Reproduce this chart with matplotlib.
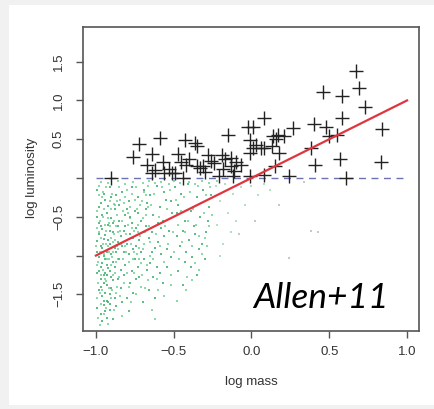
import matplotlib
matplotlib.use("Agg")
import matplotlib.pyplot as plt
from matplotlib.patches import Rectangle
import numpy as np

# black crosses: the brighter sample (log mass, log luminosity)
plus_mass = [-0.90, -0.76, -0.72, -0.67, -0.64, -0.64, -0.59, -0.57, -0.56, -0.51,
             -0.49, -0.47, -0.44, -0.43, -0.36, -0.35, -0.42, -0.35, -0.33, -0.31,
             -0.28, -0.24, -0.21, -0.19, -0.17, -0.15, -0.13, -0.13, -0.12, -0.07,
             -0.11, -0.02, 0.01, 0.08, -0.01, -0.01, 0.01, 0.06, 0.08, -0.01,
             0.08, 0.14, 0.17, 0.21, 0.13, 0.18, 0.15, 0.24, 0.27, 0.38,
             0.40, 0.41, 0.46, 0.48, 0.50, 0.55, 0.58, 0.58, 0.57, 0.61,
             0.67, 0.69, 0.73, 0.84, 0.83, -0.40, -0.45, -0.30, -0.26, -0.18,
             -0.10, 0.03, -0.53, -0.62, 0.16]
plus_lum = [0.00, 0.27, 0.44, 0.17, 0.31, 0.06, 0.52, 0.21, 0.06, 0.07,
            0.06, 0.31, 0.00, 0.49, 0.45, 0.41, 0.17, 0.16, 0.13, 0.15,
            0.30, 0.19, 0.02, 0.30, 0.24, 0.56, 0.26, 0.15, 0.02, 0.17,
            0.09, 0.66, 0.66, 0.77, 0.49, 0.32, 0.39, 0.39, 0.39, 0.02,
            0.04, 0.54, 0.56, 0.54, 0.41, 0.32, 0.15, 0.03, 0.64, 0.39,
            0.70, 0.17, 1.11, 0.66, 0.54, 0.56, 1.06, 0.77, 0.24, 0.00,
            1.38, 1.16, 0.92, 0.63, 0.20, 0.25, 0.20, 0.08, 0.22, 0.12,
            0.20, 0.42, 0.12, 0.10, 0.50]

# green dots: the faint sample below the detection limit
green_pts = [
    (-0.99, -0.15), (-0.97, -0.32), (-0.95, -0.21), (-0.93, -0.45), (-0.91, -0.12),
    (-0.98, -0.58), (-0.96, -0.66), (-0.94, -0.73), (-0.92, -0.61), (-0.90, -0.52),
    (-0.99, -0.81), (-0.97, -0.88), (-0.95, -0.79), (-0.93, -0.95), (-0.91, -0.85),
    (-0.89, -0.70), (-0.98, -1.02), (-0.96, -1.10), (-0.94, -1.05), (-0.92, -1.16),
    (-0.90, -0.98), (-0.99, -1.22), (-0.97, -1.30), (-0.95, -1.25), (-0.93, -1.38),
    (-0.91, -1.20), (-0.89, -1.32), (-0.98, -1.45), (-0.96, -1.52), (-0.94, -1.48),
    (-0.92, -1.60), (-0.90, -1.42), (-0.99, -1.68), (-0.97, -1.75), (-0.95, -1.64),
    (-0.93, -1.80), (-0.91, -1.70), (-0.88, -1.55), (-0.98, -0.38), (-0.96, -0.48),
    (-0.94, -0.28), (-0.92, -0.36), (-0.90, -0.25), (-0.88, -0.40), (-0.99, -0.95),
    (-0.97, -1.15), (-0.95, -1.35), (-0.93, -1.58), (-0.91, -1.50), (-0.89, -1.08),
    (-0.98, -0.72), (-0.96, -0.90), (-0.94, -1.22), (-0.92, -0.80), (-0.90, -1.28),
    (-0.88, -0.90), (-0.99, -0.50), (-0.97, -0.62), (-0.95, -1.00), (-0.93, -1.12),
    (-0.91, -0.68), (-0.89, -0.58), (-0.97, -1.40), (-0.95, -1.58), (-0.93, -1.25),
    (-0.91, -1.62), (-0.89, -1.82), (-0.96, -1.85), (-0.94, -1.72), (-0.98, -1.20),
    (-0.87, -0.22), (-0.85, -0.35), (-0.83, -0.18), (-0.81, -0.48), (-0.79, -0.30),
    (-0.77, -0.12), (-0.75, -0.42), (-0.73, -0.25), (-0.71, -0.55), (-0.86, -0.62),
    (-0.84, -0.75), (-0.82, -0.68), (-0.80, -0.85), (-0.78, -0.72), (-0.76, -0.92),
    (-0.74, -0.65), (-0.72, -0.80), (-0.87, -0.95), (-0.85, -1.05), (-0.83, -0.88),
    (-0.81, -1.12), (-0.79, -0.98), (-0.77, -1.20), (-0.75, -1.05), (-0.73, -1.15),
    (-0.71, -0.95), (-0.86, -1.30), (-0.84, -1.42), (-0.82, -1.25), (-0.80, -1.55),
    (-0.78, -1.35), (-0.76, -1.48), (-0.74, -1.30), (-0.87, -1.65), (-0.83, -1.60),
    (-0.79, -1.72), (-0.85, -0.55), (-0.81, -0.62), (-0.77, -0.58), (-0.73, -0.45),
    (-0.86, -0.82), (-0.82, -0.95), (-0.78, -0.50), (-0.74, -0.88), (-0.70, -0.70),
    (-0.84, -1.18), (-0.80, -0.40), (-0.76, -0.78), (-0.72, -1.28), (-0.88, -1.15),
    (-0.69, -0.15), (-0.67, -0.32), (-0.65, -0.22), (-0.63, -0.48), (-0.61, -0.10),
    (-0.59, -0.38), (-0.57, -0.55), (-0.55, -0.28), (-0.53, -0.68), (-0.51, -0.45),
    (-0.68, -0.62), (-0.66, -0.78), (-0.64, -0.70), (-0.62, -0.90), (-0.60, -0.82),
    (-0.58, -0.98), (-0.56, -0.75), (-0.54, -0.92), (-0.52, -1.02), (-0.69, -1.05),
    (-0.67, -1.18), (-0.65, -1.10), (-0.63, -1.28), (-0.61, -1.15), (-0.59, -1.22),
    (-0.57, -1.35), (-0.66, -1.45), (-0.62, -1.55), (-0.68, -0.40), (-0.60, -0.58),
    (-0.56, -0.18), (-0.52, -0.30), (-0.64, -0.95), (-0.58, -0.65), (-0.54, -1.15),
    (-0.70, -1.60),
    (-0.49, -0.12), (-0.47, -0.35), (-0.45, -0.20), (-0.43, -0.55), (-0.41, -0.08),
    (-0.39, -0.42), (-0.37, -0.62), (-0.35, -0.25), (-0.33, -0.50), (-0.31, -0.15),
    (-0.29, -0.70), (-0.27, -0.38), (-0.48, -0.75), (-0.46, -0.88), (-0.44, -0.68),
    (-0.42, -0.95), (-0.40, -0.80), (-0.38, -1.02), (-0.36, -0.72), (-0.34, -0.92),
    (-0.32, -0.85), (-0.30, -1.05), (-0.47, -1.20), (-0.43, -1.08), (-0.39, -1.15),
    (-0.35, -1.25), (-0.28, -0.55), (-0.26, -0.22), (-0.44, -1.38), (-0.48, -0.45),
]
# second, slightly lighter tone of the same cloud
green_pts2 = [
    (-0.995, -0.42), (-0.985, -1.08), (-0.975, -0.55), (-0.965, -1.62), (-0.955, -0.18),
    (-0.945, -0.98), (-0.935, -1.33), (-0.925, -0.52), (-0.915, -1.05), (-0.905, -0.77),
    (-0.895, -1.45), (-0.885, -0.33), (-0.875, -1.22), (-0.865, -0.48), (-0.855, -0.92),
    (-0.992, -1.55), (-0.982, -0.70), (-0.972, -1.90), (-0.962, -0.25), (-0.952, -1.18),
    (-0.942, -0.60), (-0.932, -1.68), (-0.922, -0.88), (-0.912, -0.30), (-0.902, -1.12),
    (-0.892, -0.95), (-0.882, -1.70), (-0.872, -0.62), (-0.862, -1.40), (-0.852, -0.12),
    (-0.998, -0.88), (-0.988, -1.35), (-0.978, -0.10), (-0.968, -0.78), (-0.958, -1.45),
    (-0.948, -0.40), (-0.938, -0.85), (-0.928, -1.05), (-0.918, -1.42), (-0.908, -0.62),
    (-0.898, -0.20), (-0.888, -1.25), (-0.878, -0.80), (-0.868, -1.08), (-0.858, -0.70),
    (-0.993, -1.12), (-0.983, -0.22), (-0.973, -1.48), (-0.963, -0.95), (-0.953, -0.50),
    (-0.943, -1.30), (-0.933, -0.68), (-0.923, -1.88), (-0.913, -0.95), (-0.903, -0.40),
    (-0.893, -0.82), (-0.883, -0.55), (-0.873, -1.48), (-0.863, -0.30), (-0.853, -1.28),
    (-0.996, -0.65), (-0.986, -1.80), (-0.976, -0.95), (-0.966, -1.25), (-0.956, -0.85),
    (-0.946, -1.75), (-0.936, -0.12), (-0.926, -1.25), (-0.916, -0.58), (-0.906, -1.55),
    (-0.896, -1.02), (-0.886, -0.72), (-0.876, -0.35), (-0.866, -0.88), (-0.856, -1.05),
    (-0.848, -0.28), (-0.838, -0.85), (-0.828, -0.42), (-0.818, -1.35), (-0.808, -0.72),
    (-0.798, -0.15), (-0.788, -1.08), (-0.778, -0.38), (-0.768, -0.65), (-0.758, -1.22),
    (-0.748, -0.28), (-0.738, -0.98), (-0.728, -0.60), (-0.718, -0.35), (-0.708, -1.10),
    (-0.698, -0.52), (-0.688, -0.85), (-0.678, -0.22), (-0.668, -1.32), (-0.658, -0.62),
    (-0.845, -1.52), (-0.835, -0.55), (-0.825, -1.05), (-0.815, -0.25), (-0.805, -0.95),
    (-0.795, -0.60), (-0.785, -1.40), (-0.775, -0.85), (-0.765, -0.20), (-0.755, -0.68),
    (-0.745, -1.50), (-0.735, -0.40), (-0.725, -1.05), (-0.715, -0.75), (-0.705, -0.30),
    (-0.695, -0.92), (-0.685, -1.42), (-0.675, -0.48), (-0.665, -0.10), (-0.655, -1.00),
    (-0.842, -0.68), (-0.822, -0.32), (-0.802, -1.22), (-0.782, -0.52), (-0.762, -1.05),
    (-0.742, -0.12), (-0.722, -0.90), (-0.702, -1.25), (-0.682, -0.70), (-0.662, -0.38),
    (-0.832, -1.78), (-0.812, -0.88), (-0.792, -0.45), (-0.772, -1.60), (-0.752, -0.95),
    (-0.732, -0.70), (-0.712, -1.40), (-0.692, -0.18), (-0.672, -1.12), (-0.652, -0.82),
    (-0.645, -0.35), (-0.635, -1.05), (-0.625, -0.20), (-0.615, -0.72), (-0.605, -1.30),
    (-0.595, -0.50), (-0.585, -0.88), (-0.575, -0.12), (-0.565, -1.08), (-0.555, -0.62),
    (-0.545, -0.40), (-0.535, -0.85), (-0.525, -0.15), (-0.515, -1.25), (-0.505, -0.70),
    (-0.495, -0.95), (-0.485, -0.28), (-0.475, -0.60), (-0.465, -1.05), (-0.455, -0.42),
    (-0.445, -0.82), (-0.435, -0.25), (-0.425, -0.70), (-0.415, -1.28), (-0.405, -0.55),
    (-0.395, -0.18), (-0.385, -0.88), (-0.375, -0.40), (-0.365, -1.10), (-0.355, -0.60),
    (-0.345, -0.10), (-0.335, -0.75), (-0.325, -0.32), (-0.315, -0.98), (-0.305, -0.45),
    (-0.295, -0.22), (-0.285, -0.88), (-0.275, -0.62), (-0.265, -0.12), (-0.255, -0.48),
    (-0.640, -1.70), (-0.600, -1.45), (-0.560, -1.52), (-0.520, -1.38), (-0.480, -1.58),
    (-0.420, -1.45), (-0.380, -1.32), (-0.340, -1.18), (-0.300, -0.78), (-0.620, -1.82),
    (-0.97, -0.05), (-0.92, -0.07), (-0.86, -0.04), (-0.81, -0.08), (-0.76, -0.05),
    (-0.70, -0.06), (-0.66, -0.04), (-0.62, -0.07), (-0.58, -0.05), (-0.53, -0.08),
    (-0.50, -0.04), (-0.46, -0.06), (-0.40, -0.05), (-0.36, -0.08), (-0.32, -0.04),
    (-0.27, -0.07), (-0.22, -0.04),
]
# sparse, paler dots further right
pale_pts = [
    (-0.23, -0.10), (-0.20, -0.30), (-0.17, -0.08), (-0.15, -0.45), (-0.12, -0.20),
    (-0.10, -0.55), (-0.07, -0.12), (-0.04, -0.35), (0.00, -0.10), (0.04, -0.22),
    (0.08, -0.08), (0.12, -0.15), (-0.22, -0.60), (-0.18, -0.85), (-0.13, -0.70),
    (-0.20, -1.00),
]
grey_pts = [(0.38, -0.68), (0.43, -0.70), (0.24, -1.03), (0.02, -0.55),
            (0.34, -0.05), (0.18, -0.35), (-0.08, -0.72)]

fit_x = [-1.0, 1.0]
fit_y = [-1.0, 1.0]

xticks = [-1.0, -0.5, 0.0, 0.5, 1.0]
xtick_labels = ["\u22121.0", "\u22120.5", "0.0", "0.5", "1.0"]
yticks = [-1.5, -1.0, -0.5, 0.0, 0.5, 1.0, 1.5]
ytick_labels = ["\u22121.5", "", "\u22120.5", "", "0.5", "1.0", "1.5"]

W, H = 434, 409
fig = plt.figure(figsize=(W / 100, H / 100), dpi=100, facecolor="#f1f1f1")
fig.patches.append(Rectangle((9 / W, 4 / H), 1 - 9 / W, 400 / H,
                             transform=fig.transFigure, facecolor="white",
                             edgecolor="none", zorder=-10))

ax = fig.add_axes([83 / W, 1 - 331 / H, 336 / W, 304 / H])
ax.set_facecolor("white")

g = np.array(green_pts)
ax.scatter(g[:, 0], g[:, 1], s=4, marker="s", color="#2aa85a", alpha=0.75,
           linewidths=0, zorder=1)
g2 = np.array(green_pts2)
ax.scatter(g2[:, 0], g2[:, 1], s=4, marker="s", color="#3cc46e", alpha=0.6,
           linewidths=0, zorder=1)
p = np.array(pale_pts)
ax.scatter(p[:, 0], p[:, 1], s=4, marker="s", color="#8fd6a6", alpha=0.7,
           linewidths=0, zorder=1)
q = np.array(grey_pts)
ax.scatter(q[:, 0], q[:, 1], s=4, marker="s", color="#c8c8c8",
           linewidths=0, zorder=1)

ax.hlines(0, -1.0, 1.0, colors="#4a4fa0", linestyles=(0, (5, 4)),
          linewidth=1.0, alpha=0.8, zorder=2)
ax.plot(plus_mass, plus_lum, linestyle="none", marker="+", markersize=9.5,
        markeredgewidth=1.0, color="#222222", zorder=3)
ax.plot(fit_x, fit_y, color="#e0343f", linewidth=1.6, zorder=4)

ax.set_xlim(-1.083, 1.077)
ax.set_ylim(-1.973, 1.947)
ax.set_xticks(xticks)
ax.set_xticklabels(xtick_labels)
ax.set_yticks(yticks)
ax.set_yticklabels(ytick_labels, rotation=90, va="center")

for s in ax.spines.values():
    s.set_color("#555555")
    s.set_linewidth(1.2)
ax.tick_params(direction="out", length=5, width=1.0, color="#555555",
               labelsize=9.5, labelcolor="#333333")
ax.tick_params(axis="x", pad=6)
ax.tick_params(axis="y", pad=8)
for lab in ax.get_xticklabels() + ax.get_yticklabels():
    lab.set_family("Liberation Sans")

fig.text((96 + 407) / 2 / W, 1 - 382 / H, "log mass", ha="center", va="center",
         fontsize=9.5, color="#333333", family="Liberation Sans")
fig.text(32 / W, 1 - 178 / H, "log luminosity", ha="center", va="center",
         rotation=90, fontsize=9.5, color="#333333", family="Liberation Sans")

ax.text(0.447, -1.55, "Allen+11", fontsize=25.5, style="italic", family="Lato",
        ha="center", va="center", color="black", zorder=5)

fig.savefig("out.png", dpi=100, facecolor=fig.get_facecolor())
